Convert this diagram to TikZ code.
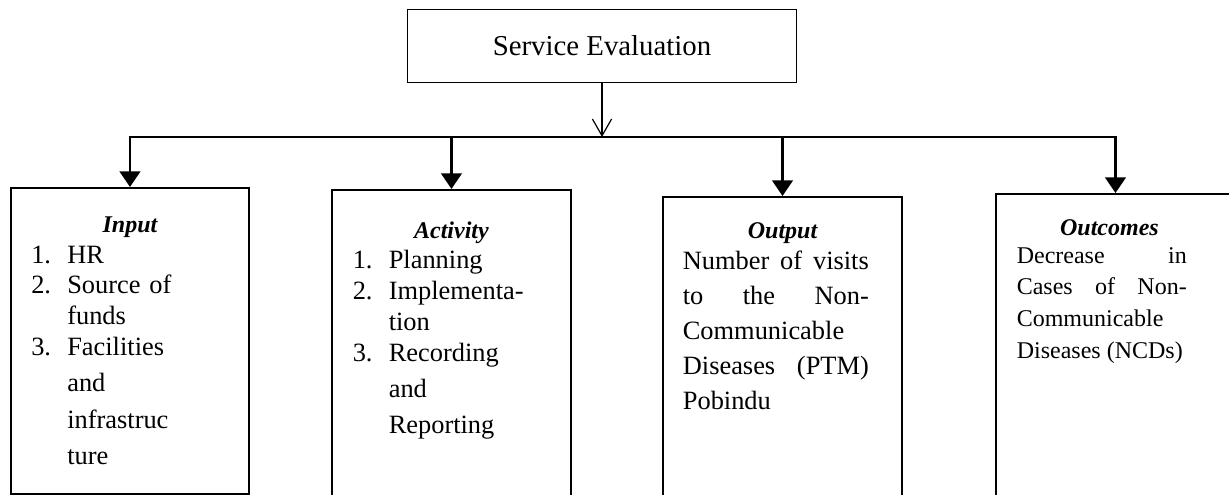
\documentclass[tikz,border=0pt]{standalone}
\usepackage{fontspec}
\setmainfont{Liberation Serif}
\usetikzlibrary{arrows.meta,positioning}

% numbered line and its continuation
\newcommand{\itm}[2]{\makebox[15pt][l]{#1}#2}
\newcommand{\cnt}[1]{\hspace*{15pt}#1}

\begin{document}
\begin{tikzpicture}[
    tri/.tip={Triangle[length=6.5pt,width=8.5pt]},
    titlebox/.style={draw, line width=0.7pt, minimum width=5.695cm,
        minimum height=1.069cm, inner sep=0pt, font=\fontsize{12}{14}\selectfont},
    stage/.style={draw, line width=0.8pt, minimum width=3.49cm,
        inner sep=0pt, anchor=north},
    head/.style={anchor=base, inner sep=0pt,
        font=\fontsize{10}{12}\selectfont\bfseries\itshape},
    list/.style={anchor=base west, inner sep=0pt, align=left, text width=3cm,
        font=\fontsize{11}{12.8}\selectfont},
    para/.style={anchor=base west, inner sep=0pt, align=justify},
    branch/.style={line width=1.2pt, -tri},
    feed/.style={line width=0.5pt, -{Straight Barb[length=7pt,width=8pt]}}
]
\useasboundingbox (0,0) rectangle (17.994,7.233);

\node[titlebox] (title) at (8.814,6.559) {Service Evaluation};
\coordinate (bus) at (8.814,5.227);

% the four stages
\node[stage, minimum height=4.48cm] (input) at (1.903,4.495) {};
\node[stage, minimum height=4.8cm] (activity) at (6.610,4.466) {};
\node[stage, minimum height=4.8cm] (output) at (11.457,4.363) {};
\node[stage, minimum height=4.8cm] (outcome) at (16.332,4.407) {};

\node[head] (inputHd) at ([yshift=-0.673cm]input.north) {Input};
\node[head] (activityHd) at ([yshift=-0.732cm]activity.north) {Activity};
\node[head] (outputHd) at ([yshift=-0.615cm]output.north) {Output};
\node[head] (outcomeHd) at ([xshift=-0.088cm,yshift=-0.615cm]outcome.north) {Outcomes};

\node[list] (inputTxt) at ([xshift=0.307cm,yshift=-1.113cm]input.north west)
{ \itm{1.}{HR}\\
  \itm{2.}{Source of}\\
  \cnt{funds}\\
  \itm{3.}{Facilities}\\[2.4pt]
  \cnt{and}\\[2.4pt]
  \cnt{infrastruc}\\[2.4pt]
  \cnt{ture} };

\node[list] (activityTxt) at ([xshift=0.307cm,yshift=-1.171cm]activity.north west)
{ \itm{1.}{Planning}\\
  \itm{2.}{Implementa-}\\
  \cnt{tion}\\
  \itm{3.}{Recording}\\[2.2pt]
  \cnt{and}\\[2.2pt]
  \cnt{Reporting} };

\node[para, text width=2.723cm, font=\fontsize{11}{14.6}\selectfont] (outputTxt)
    at ([xshift=0.293cm,yshift=-1.069cm]output.north west)
{Number of visits\linebreak to the Non-\linebreak Communicable\linebreak
Diseases (PTM)\linebreak Pobindu};

\node[para, text width=2.489cm, font=\fontsize{10}{13.3}\selectfont] (outcomeTxt)
    at ([xshift=0.307cm,yshift=-1.025cm]outcome.north west)
{Decrease in\linebreak Cases of Non-\linebreak Communicable\linebreak
Diseases (NCDs)};

% connectors
\draw[feed] (title) -- (bus);
\draw[branch, tri-tri] (input.north) |- (bus) -| (outcome.north);
\draw[branch] (activity.north |- bus) -- (activity.north);
\draw[branch] (output.north |- bus) -- (output.north);

\end{tikzpicture}
\end{document}
